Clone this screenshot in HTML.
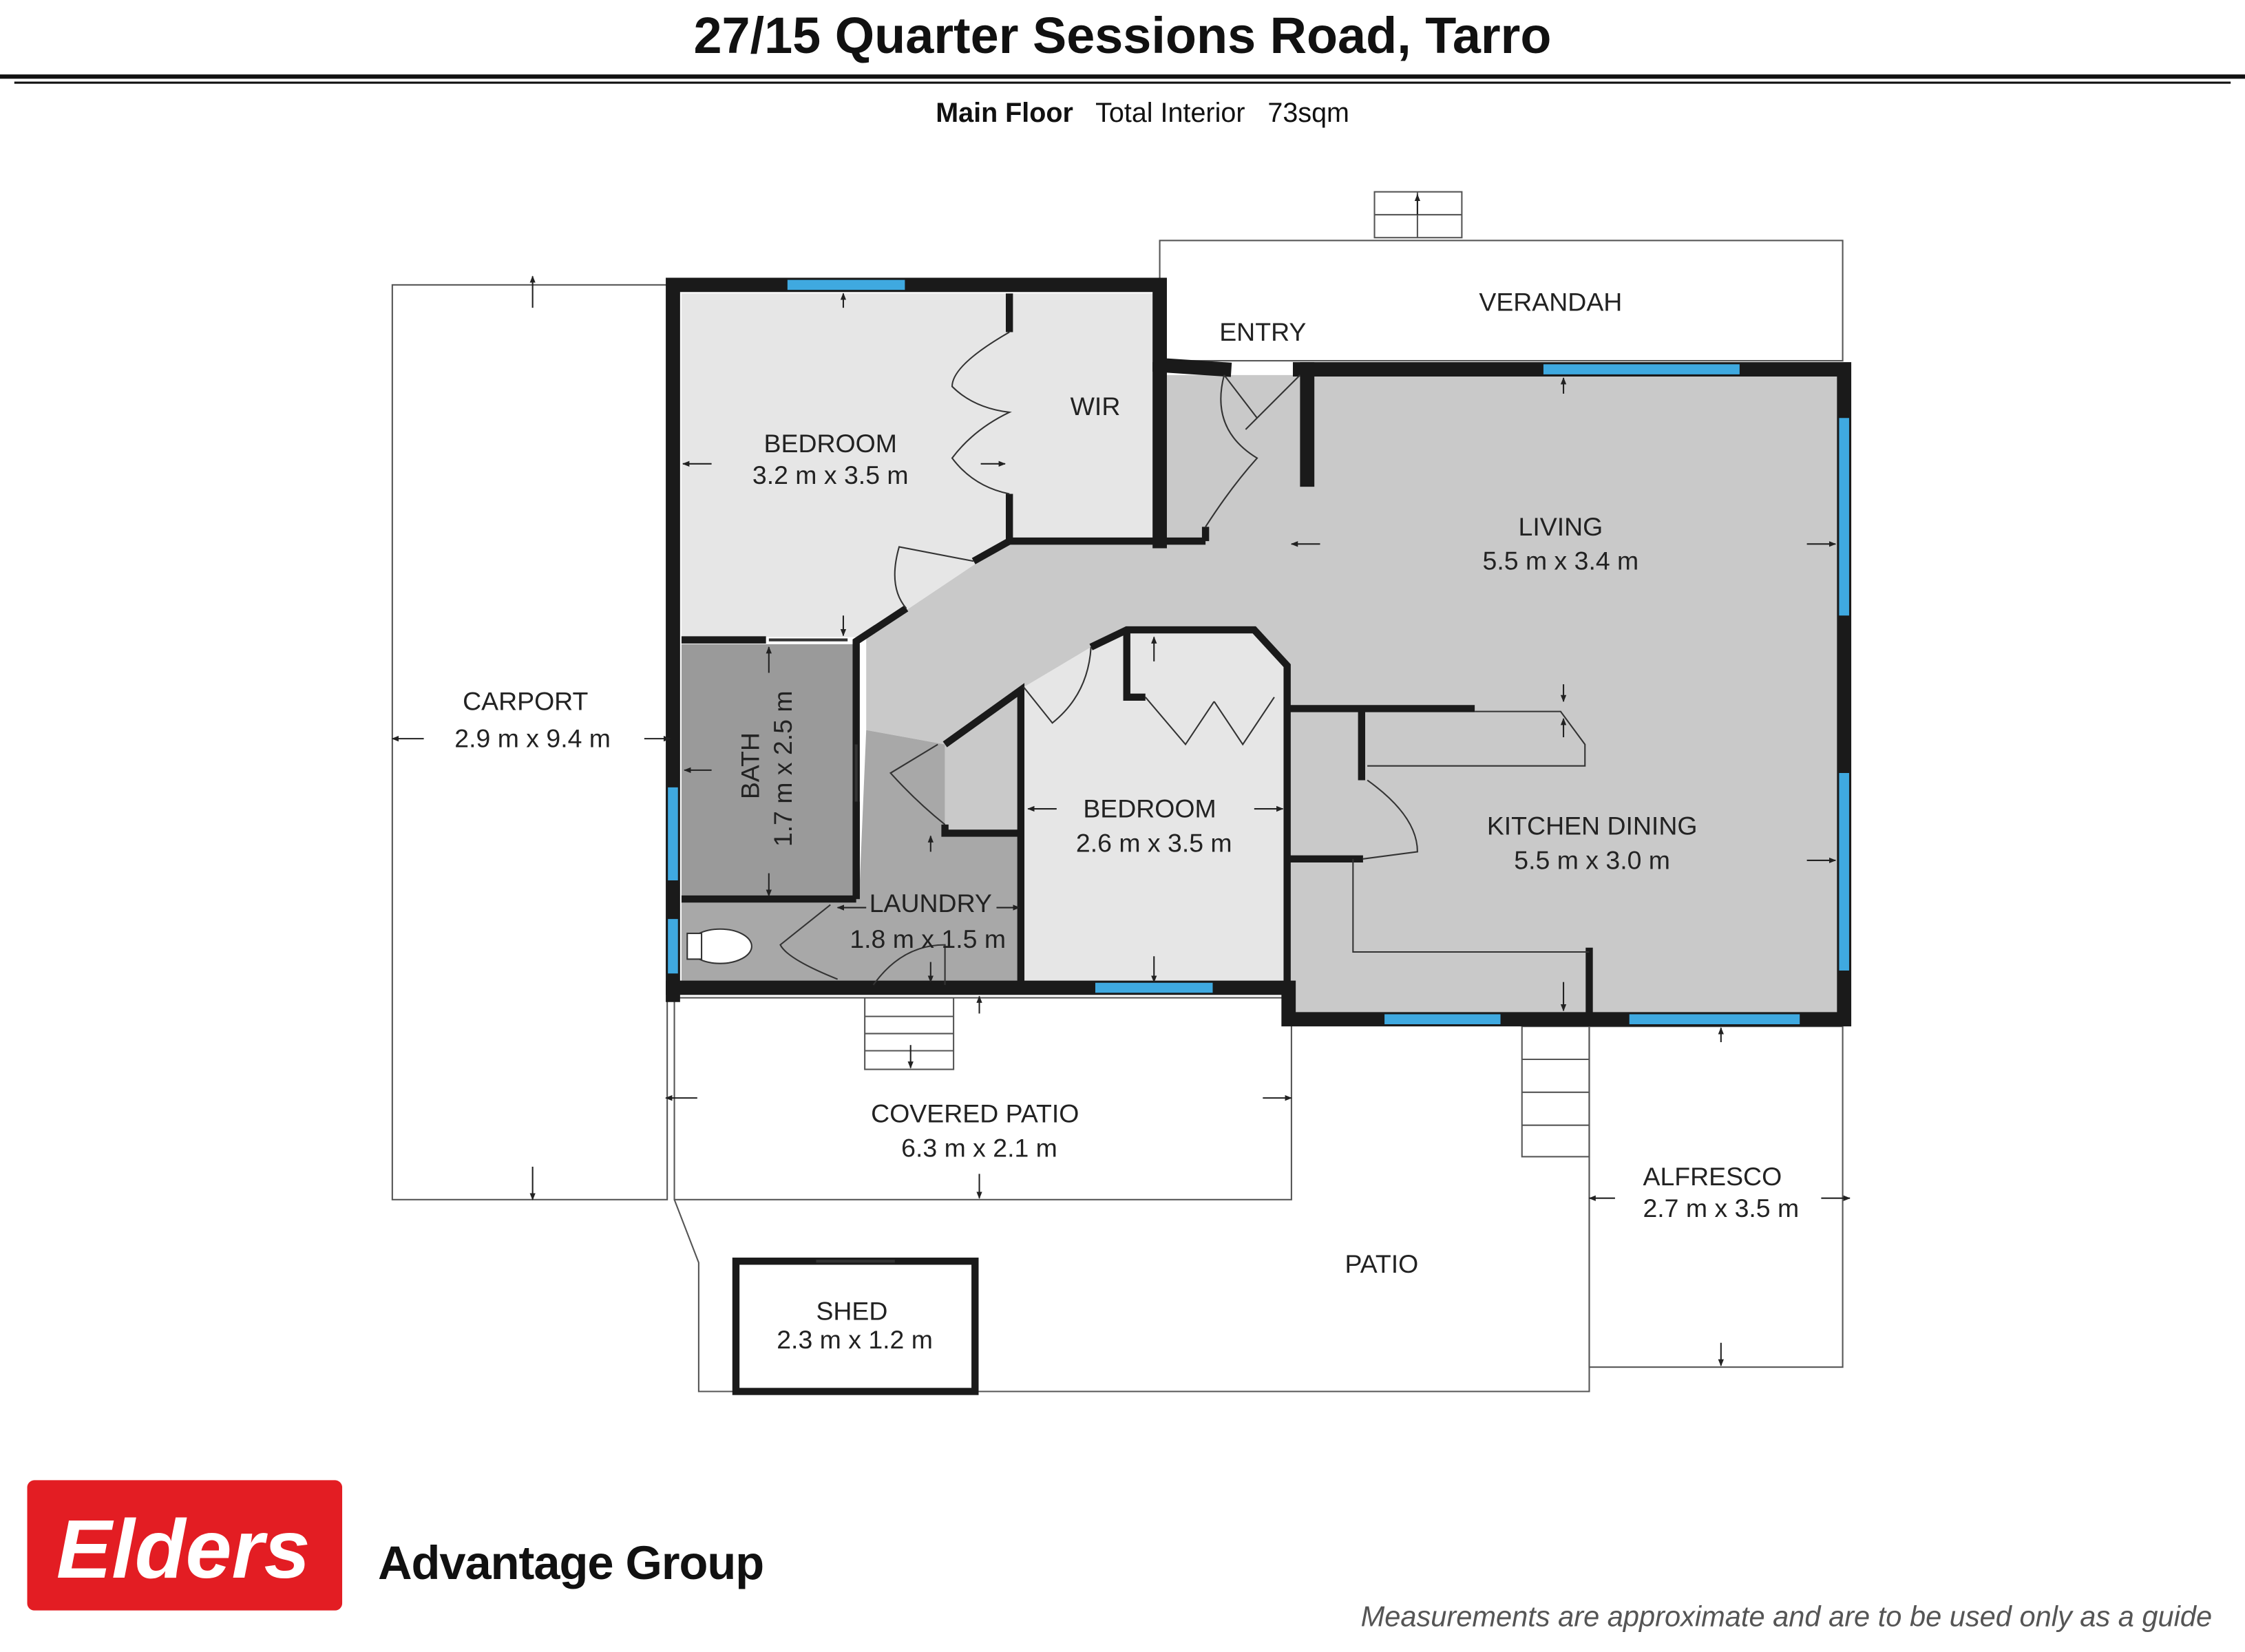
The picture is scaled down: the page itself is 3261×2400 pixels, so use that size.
<!DOCTYPE html>
<html><head><meta charset="utf-8"><style>
html,body{margin:0;padding:0;background:#fff}
svg{display:block}
text{font-family:"Liberation Sans",sans-serif}
</style></head><body>
<svg width="3261" height="2400" viewBox="0 0 1568 1154" xmlns="http://www.w3.org/2000/svg">
<defs><marker id="a" viewBox="0 0 10 10" refX="9" refY="5" markerWidth="5" markerHeight="5" orient="auto"><path d="M0,1 L10,5 L0,9 z" fill="#222"/></marker></defs>
<rect width="1568" height="1154" fill="#fff"/>
<text x="784" y="37" font-size="35.5" font-weight="bold" text-anchor="middle" fill="#111">27/15 Quarter Sessions Road, Tarro</text>
<rect x="0" y="52" width="1568" height="3" fill="#111"/>
<rect x="10" y="57" width="1548" height="1.5" fill="#111"/>
<text x="798" y="85" font-size="19" text-anchor="middle" fill="#111" xml:space="preserve"><tspan font-weight="bold">Main Floor</tspan>   Total Interior   73sqm</text>

<g fill="none" stroke="#555" stroke-width="1">
<rect x="274" y="199" width="192" height="639"/>
<rect x="810" y="168" width="477" height="84"/>
<rect x="960" y="134" width="61" height="32"/><line x1="960" y1="150" x2="1021" y2="150"/><line x1="990" y1="134" x2="990" y2="166"/>
<rect x="604" y="697" width="62" height="50"/><line x1="604" y1="710" x2="666" y2="710"/><line x1="604" y1="722" x2="666" y2="722"/><line x1="604" y1="734" x2="666" y2="734"/>
<rect x="1063" y="717" width="47" height="91"/><line x1="1063" y1="740" x2="1110" y2="740"/><line x1="1063" y1="763" x2="1110" y2="763"/><line x1="1063" y1="786" x2="1110" y2="786"/>
<rect x="471" y="697" width="431" height="141"/>
<polyline points="471,838 488,882 488,972 1110,972 1110,717"/>
<rect x="1110" y="717" width="177" height="238"/>
</g>

<polygon points="476,205 806,205 806,378 705,378 605,445 476,445" fill="#e6e6e6"/>
<polygon points="815,262 1283,262 1283,708 900,708 900,465 878,440 790,440 715,480 660,520 605,510 605,445 705,378 815,378" fill="#c9c9c9"/>
<polygon points="715,480 762,452 785,440 878,440 898,465 898,686 715,686" fill="#e6e6e6"/>
<polygon points="476,450 598,450 598,628 476,628" fill="#9a9a9a"/>
<polygon points="476,628 600,628 605,510 660,520 660,582 712,582 712,686 476,686" fill="#a8a8a8"/>
<polygon points="660,520 712,484 712,582 660,582" fill="#c9c9c9"/>

<g stroke="#1a1a1a" stroke-width="10" fill="none" stroke-linecap="square">
<polyline points="470,695 470,199 810,199 810,255 855,258"/>
<polyline points="908,258 1288,258 1288,712 900,712 900,690 470,690"/>
<line x1="913" y1="258" x2="913" y2="335"/>
<line x1="810" y1="258" x2="810" y2="378"/>
</g>
<g stroke="#1a1a1a" stroke-width="5" fill="none">
<line x1="705" y1="205" x2="705" y2="232"/><line x1="705" y1="345" x2="705" y2="378"/>
<line x1="705" y1="378" x2="842" y2="378"/><line x1="842" y1="368" x2="842" y2="378"/>
<line x1="476" y1="447" x2="535" y2="447"/>
<polyline points="598,628 598,448 633,425"/><line x1="680" y1="392" x2="705" y2="378"/>
<line x1="476" y1="628" x2="598" y2="628"/>
<polyline points="660,520 713,482 713,686"/><polyline points="660,576 660,582 713,582"/>
<polyline points="762,452 787,440 876,440 899,465 899,690"/>
<polyline points="787,440 787,487 800,487"/>
<line x1="899" y1="495" x2="1030" y2="495"/>
<line x1="951" y1="495" x2="951" y2="545"/>
<line x1="899" y1="600" x2="952" y2="600"/>
<line x1="1110" y1="662" x2="1110" y2="712"/>
<polyline points="598,560 598,628"/>
<rect x="514" y="881" width="167" height="91"/>
</g>
<g stroke="#3fa9e0" stroke-width="7">
<line x1="550" y1="199" x2="632" y2="199"/><line x1="1078" y1="258" x2="1215" y2="258"/>
<line x1="1288" y1="292" x2="1288" y2="430"/><line x1="1288" y1="540" x2="1288" y2="678"/>
<line x1="765" y1="690" x2="847" y2="690"/><line x1="967" y1="712" x2="1048" y2="712"/><line x1="1138" y1="712" x2="1257" y2="712"/>
<line x1="470" y1="550" x2="470" y2="615"/><line x1="470" y1="642" x2="470" y2="680"/>
</g>
<g stroke="#333" stroke-width="1" fill="none">
<path d="M705,232 Q665,255 665,270 Q680,285 705,288 Q680,300 665,320 Q680,340 705,345"/>
<path d="M855,262 L878,292 M855,262 Q845,300 878,320 Q860,340 842,368"/>
<path d="M908,262 L870,300"/>
<path d="M633,425 Q620,410 628,382 L680,392"/>
<path d="M762,452 Q760,485 735,505 L715,480"/>
<path d="M800,487 L828,520 L848,490 M848,490 L868,520 L890,487"/>
<path d="M1030,497 L1090,497 L1107,520 L1107,535 L955,535"/>
<path d="M955,545 Q990,570 990,595 L952,600"/>
<path d="M945,600 L945,665 L1110,665"/>
<path d="M660,576 Q640,560 622,540 L655,520"/>
<path d="M585,684 Q550,670 545,660 L580,632"/>
<path d="M610,688 Q630,660 660,660 L660,688"/>
<line x1="537" y1="447" x2="592" y2="447" stroke-width="2"/>
<line x1="598" y1="520" x2="598" y2="560" stroke-width="2"/>
<line x1="570" y1="881" x2="625" y2="881" stroke-width="2"/>
<ellipse cx="503" cy="661" rx="22" ry="12" fill="#fff"/><rect x="480" y="652" width="10" height="18" fill="#fff"/>
</g>

<g stroke="#222" stroke-width="1" marker-end="url(#a)">
<line x1="372" y1="215" x2="372" y2="193"/><line x1="372" y1="815" x2="372" y2="838"/>
<line x1="296" y1="516" x2="274" y2="516"/><line x1="450" y1="516" x2="468" y2="516"/>
<line x1="589" y1="215" x2="589" y2="205"/><line x1="589" y1="430" x2="589" y2="444"/>
<line x1="497" y1="324" x2="477" y2="324"/><line x1="685" y1="324" x2="702" y2="324"/>
<line x1="1092" y1="275" x2="1092" y2="264"/><line x1="922" y1="380" x2="902" y2="380"/><line x1="1262" y1="380" x2="1282" y2="380"/>
<line x1="1092" y1="478" x2="1092" y2="490"/><line x1="1092" y1="515" x2="1092" y2="502"/>
<line x1="1262" y1="601" x2="1282" y2="601"/><line x1="1092" y1="686" x2="1092" y2="706"/>
<line x1="537" y1="470" x2="537" y2="452"/><line x1="537" y1="610" x2="537" y2="626"/>
<line x1="497" y1="538" x2="478" y2="538"/>
<line x1="806" y1="462" x2="806" y2="445"/><line x1="806" y1="668" x2="806" y2="686"/>
<line x1="738" y1="565" x2="718" y2="565"/><line x1="876" y1="565" x2="896" y2="565"/>
<line x1="650" y1="595" x2="650" y2="584"/><line x1="650" y1="672" x2="650" y2="686"/>
<line x1="605" y1="634" x2="585" y2="634"/><line x1="696" y1="634" x2="712" y2="634"/>
<line x1="684" y1="708" x2="684" y2="696"/><line x1="684" y1="820" x2="684" y2="837"/>
<line x1="487" y1="767" x2="465" y2="767"/><line x1="882" y1="767" x2="902" y2="767"/>
<line x1="1202" y1="728" x2="1202" y2="718"/><line x1="1202" y1="938" x2="1202" y2="954"/>
<line x1="1128" y1="837" x2="1110" y2="837"/><line x1="1272" y1="837" x2="1292" y2="837"/>
<line x1="636" y1="730" x2="636" y2="746"/><line x1="990" y1="150" x2="990" y2="136"/>
</g>

<g font-size="18" fill="#222" text-anchor="middle">
<text x="580" y="316">BEDROOM</text><text x="580" y="338">3.2 m x 3.5 m</text>
<text x="765" y="290">WIR</text>
<text x="882" y="238">ENTRY</text>
<text x="1083" y="217">VERANDAH</text>
<text x="1090" y="374">LIVING</text><text x="1090" y="398">5.5 m x 3.4 m</text>
<text x="367" y="496">CARPORT</text><text x="372" y="522">2.9 m x 9.4 m</text>
<text x="803" y="571">BEDROOM</text><text x="806" y="595">2.6 m x 3.5 m</text>
<text x="1112" y="583">KITCHEN DINING</text><text x="1112" y="607">5.5 m x 3.0 m</text>
<text x="650" y="637">LAUNDRY</text><text x="648" y="662">1.8 m x 1.5 m</text>
<text x="681" y="784">COVERED PATIO</text><text x="684" y="808">6.3 m x 2.1 m</text>
<text x="1196" y="828">ALFRESCO</text><text x="1202" y="850">2.7 m x 3.5 m</text>
<text x="965" y="889">PATIO</text>
<text x="595" y="922">SHED</text><text x="597" y="942">2.3 m x 1.2 m</text>
<text transform="translate(530,535) rotate(-90)">BATH</text>
<text transform="translate(553,537) rotate(-90)">1.7 m x 2.5 m</text>
</g>

<rect x="19" y="1034" width="220" height="91" rx="5" fill="#e31d23"/>
<text x="128" y="1102" font-family="'Liberation Serif',serif" font-style="italic" font-weight="bold" font-size="58" fill="#fff" text-anchor="middle">Elders</text>
<text x="264" y="1103" font-size="33" font-weight="bold" fill="#111" letter-spacing="-0.5">Advantage Group</text>
<text x="1545" y="1136" font-size="20" font-style="italic" fill="#555" text-anchor="end">Measurements are approximate and are to be used only as a guide</text>
</svg>
</body></html>
